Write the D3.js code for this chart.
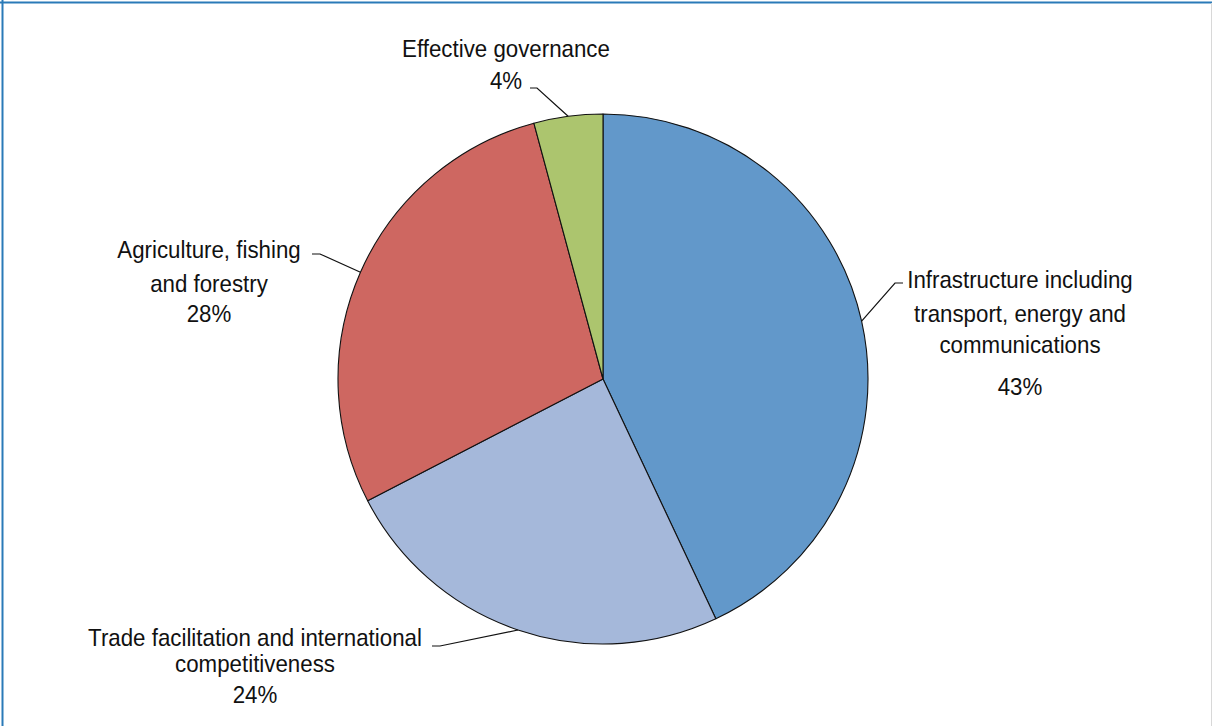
<!DOCTYPE html>
<html>
<head>
<meta charset="utf-8">
<script src="https://cdn.jsdelivr.net/npm/d3@7"></script>
<style>
  html, body { margin: 0; padding: 0; background: #fff; }
  svg { display: block; }
  text { font-family: "Liberation Sans", Arial, sans-serif; fill: #111; }
</style>
</head>
<body>
<svg id="chart" width="1212" height="726"></svg>
<script>
// ---- data ----
const categories = [
  "Infrastructure including transport, energy and communications",
  "Trade facilitation and international competitiveness",
  "Agriculture, fishing and forestry",
  "Effective governance"
];
const values = [43.0, 24.4, 28.4, 4.2];
const percentLabels = ["43%", "24%", "28%", "4%"];
const labelLines = [
  ["Infrastructure including", "transport, energy and", "communications"],
  ["Trade facilitation and international", "competitiveness"],
  ["Agriculture, fishing", "and forestry"],
  ["Effective governance"]
];
const colors = ["#6298CA", "#A5B8DA", "#CE6761", "#ACC56E"];

// ---- layout (positions only) ----
const W = 1212, H = 726;
const cx = 603, cy = 379, R = 265;
const fontSize = 24;
const refWidth = 334; // width of the widest label line in the reference
const labelLayout = [
  { x: 1020, baselines: [288, 322, 353, 395], lineStart: 903, elbowX: 895, elbowY: 283 },
  { x: 255,  baselines: [646, 672, 703],      lineStart: 432, elbowX: 440, elbowY: 646 },
  { x: 209,  baselines: [258, 292, 322],      lineStart: 312, elbowX: 320, elbowY: 254 },
  { x: 506,  baselines: [57, 89],             lineStart: 530, elbowX: 537, elbowY: 88 }
];

const svg = d3.select("#chart");

// frame
svg.append("line").attr("x1", 0).attr("x2", W).attr("y1", 2.5).attr("y2", 2.5)
  .attr("stroke", "#2A7AB8").attr("stroke-width", 2);
svg.append("line").attr("x1", 2.5).attr("x2", 2.5).attr("y1", 0).attr("y2", H)
  .attr("stroke", "#2A7AB8").attr("stroke-width", 2);
svg.append("line").attr("x1", W - 0.5).attr("x2", W - 0.5).attr("y1", 3).attr("y2", H)
  .attr("stroke", "#d8d8d8").attr("stroke-width", 1);

const pie = d3.pie().sort(null).value(d => d)
  .startAngle(0).endAngle(2 * Math.PI);
const arcs = pie(values);
const arc = d3.arc().innerRadius(0).outerRadius(R);

const g = svg.append("g").attr("transform", `translate(${cx},${cy})`);
g.selectAll("path.slice").data(arcs).join("path")
  .attr("class", "slice")
  .attr("d", arc)
  .attr("fill", (d, i) => colors[i])
  .attr("stroke", "#111")
  .attr("stroke-width", 1.1)
  .attr("stroke-linejoin", "round");

// leader lines
arcs.forEach((d, i) => {
  const L = labelLayout[i];
  const mid = (d.startAngle + d.endAngle) / 2;
  const ex = cx + R * Math.sin(mid);
  const ey = cy - R * Math.cos(mid);
  svg.append("polyline")
    .attr("points", [[L.lineStart, L.elbowY], [L.elbowX, L.elbowY], [ex, ey]].map(p => p.join(",")).join(" "))
    .attr("fill", "none")
    .attr("stroke", "#111")
    .attr("stroke-width", 1.2);
});

// measure to get a condensed horizontal scale
const probe = svg.append("text").attr("font-size", fontSize).text(labelLines[1][0]);
const sx = refWidth / probe.node().getComputedTextLength();
probe.remove();

// labels
categories.forEach((c, i) => {
  const L = labelLayout[i];
  const lines = labelLines[i].concat([percentLabels[i]]);
  lines.forEach((t, j) => {
    svg.append("text")
      .attr("transform", `translate(${L.x},${L.baselines[j]}) scale(${sx},1)`)
      .attr("text-anchor", "middle")
      .attr("font-size", fontSize)
      .text(t);
  });
});
</script>
</body>
</html>
